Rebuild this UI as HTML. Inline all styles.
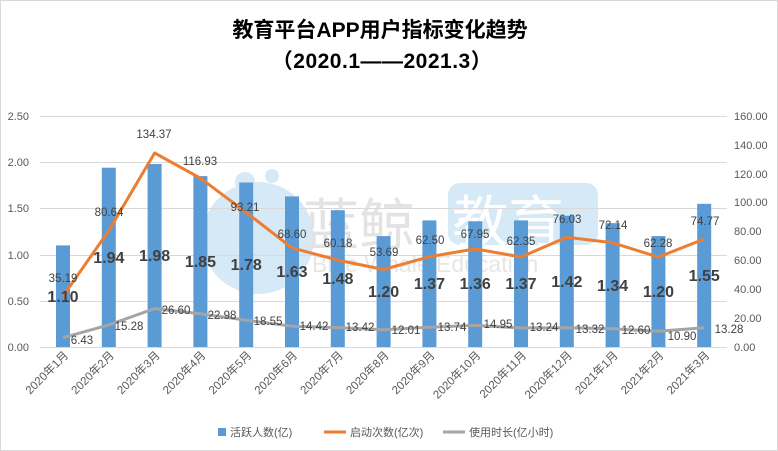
<!DOCTYPE html>
<html><head><meta charset="utf-8"><style>
html,body{margin:0;padding:0;background:#fff}
svg{display:block}
text{font-family:"Liberation Sans","Noto Sans CJK SC",sans-serif}
</style></head><body>
<svg width="778" height="451" viewBox="0 0 778 451" xmlns="http://www.w3.org/2000/svg">
<rect x="0.5" y="0.5" width="777" height="450" fill="#fff" stroke="#d9d9d9"/>
<text x="380" y="37" text-anchor="middle" font-size="21" font-weight="bold" fill="#000">教育平台APP用户指标变化趋势</text>
<text x="382" y="68" text-anchor="middle" font-size="21" font-weight="bold" fill="#000" letter-spacing="0.5">（2020.1——2021.3）</text>
<!-- watermark -->
<g>
<circle cx="258" cy="238" r="56" fill="#d6e9f6"/>
<circle cx="245" cy="182" r="10" fill="#d6e9f6"/>
<circle cx="272" cy="176" r="7" fill="#d6e9f6"/>
<text x="303" y="245" font-size="56" fill="#e3e3e3">蓝鲸</text>
<rect x="448" y="183" width="150" height="62" rx="12" fill="#d6e9f6"/>
<text x="452" y="242" font-size="56" fill="#fff">教育</text>
<text x="312" y="272" font-size="23" fill="#e6e6e6">Blue Whale Education</text>
</g>
<g stroke="#d9d9d9" stroke-width="1">
<line x1="40" y1="116.5" x2="727" y2="116.5"/><line x1="40" y1="162.5" x2="727" y2="162.5"/><line x1="40" y1="208.5" x2="727" y2="208.5"/><line x1="40" y1="255.5" x2="727" y2="255.5"/><line x1="40" y1="301.5" x2="727" y2="301.5"/><line x1="40" y1="347.5" x2="727" y2="347.5"/>
</g>
<g font-size="11" fill="#595959" text-anchor="end">
<text x="29" y="120">2.50</text><text x="29" y="166">2.00</text><text x="29" y="212">1.50</text><text x="29" y="259">1.00</text><text x="29" y="305">0.50</text><text x="29" y="351">0.00</text>
</g>
<g font-size="11" fill="#595959">
<text x="734" y="120">160.00</text><text x="734" y="149">140.00</text><text x="734" y="178">120.00</text><text x="734" y="206">100.00</text><text x="734" y="235">80.00</text><text x="734" y="264">60.00</text><text x="734" y="293">40.00</text><text x="734" y="322">20.00</text><text x="734" y="351">0.00</text>
</g>
<g fill="#5b9bd5">
<rect x="56" y="245.4" width="14" height="101.6"/><rect x="101.8" y="167.7" width="14" height="179.3"/><rect x="147.6" y="164" width="14" height="183"/><rect x="193.4" y="176.1" width="14" height="170.9"/><rect x="239.2" y="182.5" width="14" height="164.5"/><rect x="285" y="196.4" width="14" height="150.6"/><rect x="330.8" y="210.2" width="14" height="136.8"/><rect x="376.6" y="236.1" width="14" height="110.9"/><rect x="422.4" y="220.4" width="14" height="126.6"/><rect x="468.2" y="221.3" width="14" height="125.7"/><rect x="514" y="220.4" width="14" height="126.6"/><rect x="559.8" y="215.8" width="14" height="131.2"/><rect x="605.6" y="223.2" width="14" height="123.8"/><rect x="651.4" y="236.1" width="14" height="110.9"/><rect x="697.2" y="203.8" width="14" height="143.2"/>
</g>
<polyline fill="none" stroke="#ed7d31" stroke-width="3" stroke-linejoin="round" points="63,296.2 108.8,230.6 154.6,153 200.4,178.2 246.2,212.4 292,247.9 337.8,260.1 383.6,269.5 429.4,256.7 475.2,248.9 521,257 566.8,237.2 612.6,242.8 658.4,257.1 704.2,239"/>
<polyline fill="none" stroke="#a5a5a5" stroke-width="3" stroke-linejoin="round" points="63,337.7 108.8,324.9 154.6,308.6 200.4,313.8 246.2,320.2 292,326.2 337.8,327.6 383.6,329.7 429.4,327.2 475.2,325.4 521,327.9 566.8,327.8 612.6,328.8 658.4,331.3 704.2,327.8"/>
<g font-size="16" font-weight="bold" fill="#404040" text-anchor="middle">
<text x="63" y="302">1.10</text><text x="108.8" y="263">1.94</text><text x="154.6" y="261">1.98</text><text x="200.4" y="267">1.85</text><text x="246.2" y="270">1.78</text><text x="292" y="277">1.63</text><text x="337.8" y="284">1.48</text><text x="383.6" y="297">1.20</text><text x="429.4" y="289">1.37</text><text x="475.2" y="289">1.36</text><text x="521" y="289">1.37</text><text x="566.8" y="287">1.42</text><text x="612.6" y="291">1.34</text><text x="658.4" y="297">1.20</text><text x="704.2" y="281">1.55</text>
</g>
<g font-size="11.5" fill="#404040" text-anchor="middle">
<text x="63" y="282">35.19</text><text x="109" y="216">80.64</text><text x="154" y="138">134.37</text><text x="200" y="165">116.93</text><text x="245" y="211">93.21</text><text x="292" y="238">68.60</text><text x="338" y="247">60.18</text><text x="384" y="256">53.69</text><text x="430" y="244">62.50</text><text x="475" y="238">67.95</text><text x="521" y="245">62.35</text><text x="567" y="223">76.03</text><text x="613" y="229">72.14</text><text x="658" y="247">62.28</text><text x="705" y="225">74.77</text>
<text x="82" y="344">6.43</text><text x="129" y="330">15.28</text><text x="176" y="314">26.60</text><text x="222" y="319">22.98</text><text x="268" y="325">18.55</text><text x="314" y="330">14.42</text><text x="360" y="331">13.42</text><text x="406" y="334">12.01</text><text x="452" y="331">13.74</text><text x="498" y="328">14.95</text><text x="544" y="331">13.24</text><text x="590" y="333">13.32</text><text x="636" y="334">12.60</text><text x="682" y="340">10.90</text><text x="729" y="333">13.28</text>
</g>
<g font-size="11.5" fill="#595959" text-anchor="end">
<text transform="translate(69,356) rotate(-45)">2020年1月</text>
<text transform="translate(114.8,356) rotate(-45)">2020年2月</text>
<text transform="translate(160.6,356) rotate(-45)">2020年3月</text>
<text transform="translate(206.4,356) rotate(-45)">2020年4月</text>
<text transform="translate(252.2,356) rotate(-45)">2020年5月</text>
<text transform="translate(298,356) rotate(-45)">2020年6月</text>
<text transform="translate(343.8,356) rotate(-45)">2020年7月</text>
<text transform="translate(389.6,356) rotate(-45)">2020年8月</text>
<text transform="translate(435.4,356) rotate(-45)">2020年9月</text>
<text transform="translate(481.2,356) rotate(-45)">2020年10月</text>
<text transform="translate(527,356) rotate(-45)">2020年11月</text>
<text transform="translate(572.8,356) rotate(-45)">2020年12月</text>
<text transform="translate(618.6,356) rotate(-45)">2021年1月</text>
<text transform="translate(664.4,356) rotate(-45)">2021年2月</text>
<text transform="translate(710.2,356) rotate(-45)">2021年3月</text>
</g>
<rect x="218" y="428" width="8" height="8" fill="#5b9bd5"/>
<text x="230" y="436" font-size="11" fill="#595959">活跃人数(亿)</text>
<line x1="324" y1="432" x2="346" y2="432" stroke="#ed7d31" stroke-width="3"/>
<text x="350" y="436" font-size="11" fill="#595959">启动次数(亿次)</text>
<line x1="443" y1="432" x2="465" y2="432" stroke="#a5a5a5" stroke-width="3"/>
<text x="469" y="436" font-size="11" fill="#595959">使用时长(亿小时)</text>
</svg>
</body></html>
